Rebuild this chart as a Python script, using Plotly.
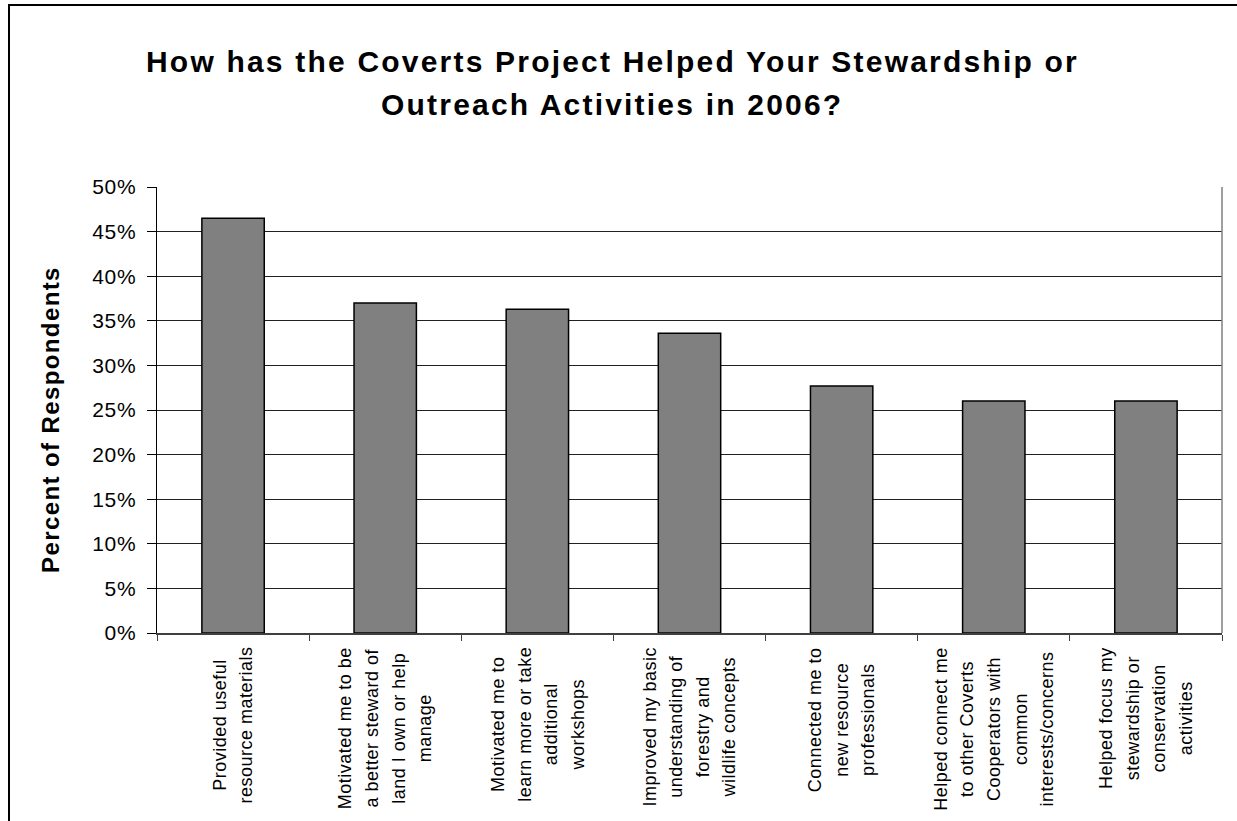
import plotly.graph_objects as go

categories = [
    "Provided useful|resource materials",
    "Motivated me to be|a better steward of|land I own or help|manage",
    "Motivated me to|learn more or take|additional|workshops",
    "Improved my basic|understanding of|forestry and|wildlife concepts",
    "Connected me to|new resource|professionals",
    "Helped connect me|to other Coverts|Cooperators with|common|interests/concerns",
    "Helped focus my|stewardship or|conservation|activities",
]
values = [0.465, 0.370, 0.363, 0.336, 0.277, 0.260, 0.260]
y_ticks = [0, 0.05, 0.10, 0.15, 0.20, 0.25, 0.30, 0.35, 0.40, 0.45, 0.50]
y_tick_labels = ["0%", "5%", "10%", "15%", "20%", "25%", "30%", "35%", "40%", "45%", "50%"]
title_lines = ["How has the Coverts Project Helped Your Stewardship or",
               "Outreach Activities in 2006?"]
y_title = "Percent of Respondents"

FONT = "Liberation Sans, Arial, sans-serif"

def spaced(text, size, ls):
    return f'<span style="font-size:{size}px;letter-spacing:{ls}px">{text}</span>'

fig = go.Figure()
fig.add_trace(go.Bar(
    x=list(range(len(categories))),
    y=values,
    marker=dict(color="#808080", line=dict(color="#000000", width=1.5)),
    width=0.41,
    hoverinfo="skip",
))

W, H = 1237, 821
ml, mr, mt, mb = 157, 15, 187, 188

fig.update_layout(
    width=W, height=H,
    margin=dict(l=ml, r=mr, t=mt, b=mb, pad=0),
    paper_bgcolor="white", plot_bgcolor="white",
    showlegend=False,
    font=dict(family=FONT, color="black"),
)
fig.update_xaxes(
    range=[-0.5, len(categories) - 0.5],
    tickvals=[i - 0.5 for i in range(len(categories) + 1)],
    showticklabels=False,
    ticks="outside", ticklen=6, tickcolor="#404040", tickwidth=1,
    showgrid=False, zeroline=False,
    showline=True, linecolor="#404040", linewidth=1.5,
)
fig.update_yaxes(
    range=[0, 0.5],
    tickvals=y_ticks,
    ticktext=[spaced(t, 21, 0.7) for t in y_tick_labels],
    ticks="outside", ticklen=9, tickcolor="#000000", tickwidth=1,
    ticklabelstandoff=6,
    tickfont=dict(size=21, family=FONT, color="black"),
    showgrid=True, gridcolor="#202020", gridwidth=1,
    zeroline=False,
    showline=True, linecolor="#000000", linewidth=1.5,
)

pw = W - ml - mr
ph = H - mt - mb
def px_x(p):
    return (p - ml) / pw
def px_y(p):
    return (H - mb - p) / ph

# right border of plot area
fig.add_shape(type="line", xref="paper", yref="paper", x0=1, x1=1, y0=0, y1=1,
              line=dict(color="#808080", width=1.5))
# outer chart frame
fig.add_shape(type="rect", xref="paper", yref="paper",
              x0=px_x(9), x1=px_x(1260), y0=px_y(5), y1=px_y(850),
              line=dict(color="#000000", width=2), fillcolor="rgba(0,0,0,0)")

# title
for i, line in enumerate(title_lines):
    fig.add_annotation(
        text=spaced("<b>" + line + "</b>", 30, 2.2),
        xref="paper", yref="paper", x=px_x(612), y=px_y(61 + i * 44),
        xanchor="center", yanchor="middle", showarrow=False,
        font=dict(size=30, family=FONT, color="black"),
    )

# y-axis title
fig.add_annotation(
    text=spaced("<b>" + y_title + "</b>", 24, 1.4),
    xref="paper", yref="paper", x=px_x(50), y=px_y(420),
    xanchor="center", yanchor="middle", textangle=-90, showarrow=False,
    font=dict(size=24, family=FONT, color="black"),
)

# category labels (rotated, centered lines)
for i, cat in enumerate(categories):
    lines = cat.split("|")
    txt = "<br>".join(spaced(l, 18, 0.5) for l in lines)
    fig.add_annotation(
        text=txt, xref="x", yref="paper", x=i, y=0, yshift=-12,
        xanchor="center", yanchor="top", textangle=-90, align="center",
        showarrow=False, font=dict(size=20.5, family=FONT, color="black"),
    )

fig.write_html(
    "out.html",
    config={"displayModeBar": False, "staticPlot": True},
    post_script="document.body.style.margin='0px';document.body.style.overflow='hidden';",
)
